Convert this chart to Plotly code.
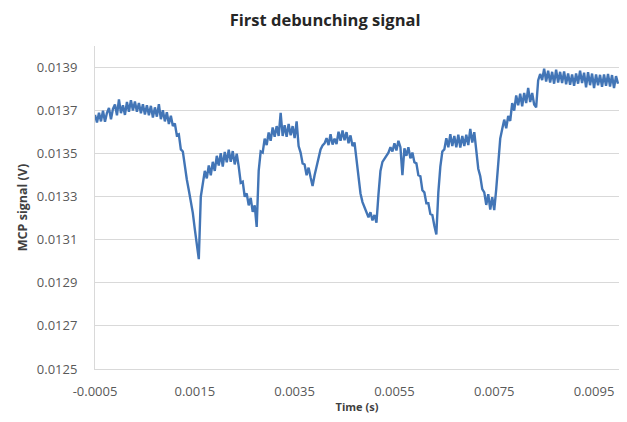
import plotly.graph_objects as go

# ---- data ----
title_text = "First debunching signal"
x_title = "Time (s)"
y_title = "MCP signal (V)"

t_start = -0.0005      # s, first sample
t_step = 0.00004       # s, sample spacing

signal_v = [
    0.013680, 0.013645, 0.013690, 0.013650, 0.013700, 0.013648, 0.013690, 0.013712, 0.013660, 0.013708,
    0.013728, 0.013678, 0.013752, 0.013688, 0.013725, 0.013680, 0.013740, 0.013695, 0.013748, 0.013700,
    0.013742, 0.013695, 0.013735, 0.013688, 0.013730, 0.013682, 0.013725, 0.013678, 0.013722, 0.013668,
    0.013715, 0.013672, 0.013730, 0.013660, 0.013702, 0.013650, 0.013692, 0.013638, 0.013676, 0.013628,
    0.013640, 0.013585, 0.013590, 0.013520, 0.013510, 0.013430, 0.013380, 0.013330, 0.013280, 0.013225,
    0.013150, 0.013090, 0.013010, 0.013300, 0.013365, 0.013420, 0.013385, 0.013445, 0.013400, 0.013462,
    0.013420, 0.013490, 0.013445, 0.013502, 0.013440, 0.013508, 0.013460, 0.013518, 0.013462, 0.013512,
    0.013450, 0.013500, 0.013440, 0.013365, 0.013370, 0.013300, 0.013315, 0.013260, 0.013295, 0.013230,
    0.013260, 0.013160, 0.013420, 0.013510, 0.013505, 0.013570, 0.013540, 0.013598, 0.013560, 0.013622,
    0.013578, 0.013628, 0.013582, 0.013690, 0.013582, 0.013632, 0.013578, 0.013638, 0.013585, 0.013628,
    0.013572, 0.013650, 0.013535, 0.013505, 0.013455, 0.013450, 0.013400, 0.013435, 0.013390, 0.013350,
    0.013400, 0.013445, 0.013485, 0.013520, 0.013538, 0.013548, 0.013572, 0.013540, 0.013590, 0.013542,
    0.013570, 0.013545, 0.013602, 0.013560, 0.013608, 0.013562, 0.013600, 0.013548, 0.013585, 0.013535,
    0.013552, 0.013470, 0.013380, 0.013315, 0.013275, 0.013250, 0.013225, 0.013205, 0.013228, 0.013190,
    0.013215, 0.013180, 0.013310, 0.013420, 0.013462, 0.013478, 0.013495, 0.013505, 0.013530, 0.013510,
    0.013548, 0.013515, 0.013560, 0.013530, 0.013400, 0.013525, 0.013490, 0.013530, 0.013478, 0.013505,
    0.013460, 0.013455, 0.013400, 0.013395, 0.013330, 0.013320, 0.013270, 0.013270, 0.013220, 0.013215,
    0.013165, 0.013125, 0.013320, 0.013440, 0.013510, 0.013520, 0.013572, 0.013530, 0.013590, 0.013535,
    0.013582, 0.013530, 0.013588, 0.013528, 0.013582, 0.013535, 0.013588, 0.013540, 0.013615, 0.013552,
    0.013600, 0.013510, 0.013430, 0.013395, 0.013335, 0.013320, 0.013262, 0.013312, 0.013240, 0.013298,
    0.013238, 0.013335, 0.013455, 0.013570, 0.013615, 0.013658, 0.013618, 0.013675, 0.013652, 0.013735,
    0.013700, 0.013770, 0.013725, 0.013778, 0.013720, 0.013782, 0.013735, 0.013805, 0.013740, 0.013782,
    0.013728, 0.013715, 0.013840, 0.013870, 0.013842, 0.013895, 0.013835, 0.013885, 0.013830, 0.013880,
    0.013825, 0.013890, 0.013830, 0.013880, 0.013828, 0.013882, 0.013822, 0.013872, 0.013820, 0.013868,
    0.013815, 0.013872, 0.013825, 0.013885, 0.013828, 0.013876, 0.013808, 0.013878, 0.013818, 0.013872,
    0.013805, 0.013868, 0.013818, 0.013866, 0.013810, 0.013868, 0.013815, 0.013870, 0.013812, 0.013865,
    0.013805, 0.013860, 0.013825,
]

time_s = [t_start + i * t_step for i in range(len(signal_v))]

y_ticks = [0.0125, 0.0127, 0.0129, 0.0131, 0.0133, 0.0135, 0.0137, 0.0139]
y_tick_text = ["0.0125", "0.0127", "0.0129", "0.0131", "0.0133", "0.0135", "0.0137", "0.0139"]
x_ticks = [-0.0005, 0.0015, 0.0035, 0.0055, 0.0075, 0.0095]
x_tick_text = ["-0.0005", "0.0015", "0.0035", "0.0055", "0.0075", "0.0095"]

# ---- figure ----
fig = go.Figure()
fig.add_trace(go.Scatter(
    x=time_s, y=signal_v, mode="lines",
    line=dict(color="#4275B6", width=2.4),
    showlegend=False, hoverinfo="skip",
))

font_family = "Open Sans, Liberation Sans, sans-serif"

# page body adds an 8px margin, so the figure is sized to fit inside it
fig.update_layout(
    width=611, height=406,
    margin=dict(l=87, r=0, t=38, b=42),
    paper_bgcolor="white", plot_bgcolor="white",
    font=dict(family=font_family, color="#595959", size=13),
    title=dict(text="<b>" + title_text + "</b>", x=0.519, xanchor="center",
               y=0.970, yanchor="middle",
               font=dict(family=font_family, size=16.5, color="#262626")),
)

fig.update_xaxes(
    range=[-0.0005, 0.0100],
    tickvals=x_ticks, ticktext=x_tick_text,
    showgrid=False, zeroline=False,
    showline=True, linecolor="#D9D9D9", linewidth=1,
    ticks="", ticklabelstandoff=10,
    tickfont=dict(size=13, color="#595959"),
    title=dict(text="<b>" + x_title + "</b>", standoff=7,
               font=dict(size=11, color="#404040")),
)
fig.update_yaxes(
    range=[0.0125, 0.0140],
    tickvals=y_ticks, ticktext=y_tick_text,
    showgrid=True, gridcolor="#D9D9D9", gridwidth=1,
    zeroline=False,
    showline=True, linecolor="#D9D9D9", linewidth=1,
    ticks="", ticklabelstandoff=14,
    tickfont=dict(size=13, color="#595959"),
    title=dict(text="<b>" + y_title + "</b>", standoff=6,
               font=dict(size=12.5, color="#404040")),
)

fig.write_html("out.html")
